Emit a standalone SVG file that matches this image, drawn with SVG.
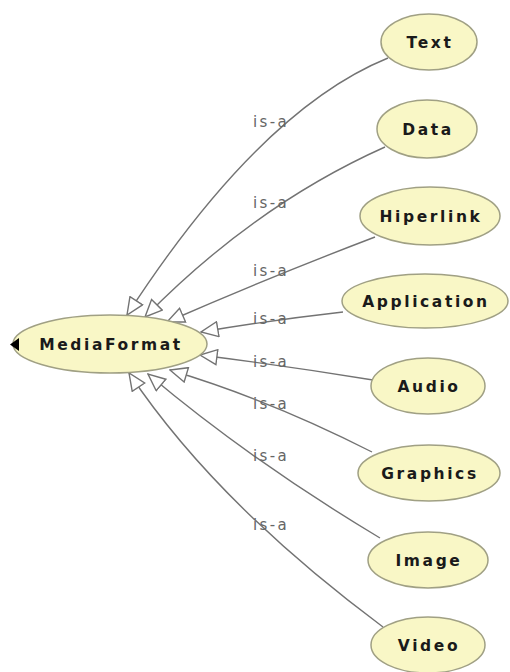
<svg xmlns="http://www.w3.org/2000/svg" width="510" height="672" viewBox="0 0 510 672">
  <style>
    .node ellipse { fill: #f9f7c6; stroke: #a0a084; stroke-width: 1.5; }
    .node text { font-family: "DejaVu Sans", Verdana, sans-serif; font-size: 15.5px; font-weight: bold; fill: #1a1a1a; text-anchor: middle; letter-spacing: 2.6px; }
    .edge { fill: none; stroke: #737373; stroke-width: 1.4; marker-start: url(#hollow); }
    .lbl { font-family: "DejaVu Sans", Verdana, sans-serif; font-size: 15px; fill: #666666; letter-spacing: 2.4px; }
  </style>
  <defs>
    <!-- open triangle head for the is-a relation, tip at the parent -->
    <marker id="hollow" viewBox="0 0 19 17" markerWidth="19" markerHeight="17" refX="18" refY="8.5" orient="auto-start-reverse" markerUnits="userSpaceOnUse">
      <path d="M1,1 L18,8.5 L1,16 Z" fill="#ffffff" stroke="#737373" stroke-width="1.4"/>
    </marker>
  </defs>
  <rect width="510" height="672" fill="#ffffff"/>

  <g id="connectors">
    <path class="edge" d="M127,315 Q260,110 388,58"/>
    <path class="edge" d="M145,317 Q255,205 385,147"/>
    <path class="edge" d="M167,322 Q270,277 375,237"/>
    <path class="edge" d="M201,332 Q272,320 343,312"/>
    <path class="edge" d="M200,355 Q287,366 373,380"/>
    <path class="edge" d="M170,370 Q270,400 372,452"/>
    <path class="edge" d="M148,374 Q250,460 380,538"/>
    <path class="edge" d="M129,373 Q216,503 383,627"/>
    <text class="lbl" x="253" y="127">is-a</text>
    <text class="lbl" x="253" y="208">is-a</text>
    <text class="lbl" x="253" y="276">is-a</text>
    <text class="lbl" x="253" y="324">is-a</text>
    <text class="lbl" x="253" y="367">is-a</text>
    <text class="lbl" x="253" y="409">is-a</text>
    <text class="lbl" x="253" y="461">is-a</text>
    <text class="lbl" x="253" y="530">is-a</text>
  </g>

  <g id="MediaFormat" class="node">
    <ellipse cx="110" cy="344" rx="97" ry="29"/>
    <polygon points="10,344.5 19,338 19,351" fill="#000000"/>
    <text x="111" y="350">MediaFormat</text>
  </g>
  <g id="Text" class="node">
    <ellipse cx="429" cy="42" rx="48" ry="28"/>
    <text x="430" y="48">Text</text>
  </g>
  <g id="Data" class="node">
    <ellipse cx="427" cy="129" rx="50" ry="29"/>
    <text x="428" y="135">Data</text>
  </g>
  <g id="Hiperlink" class="node">
    <ellipse cx="430" cy="216" rx="70" ry="29"/>
    <text x="431" y="222">Hiperlink</text>
  </g>
  <g id="Application" class="node">
    <ellipse cx="425" cy="301" rx="83" ry="27"/>
    <text x="426" y="307">Application</text>
  </g>
  <g id="Audio" class="node">
    <ellipse cx="428" cy="386" rx="57" ry="28"/>
    <text x="429" y="392">Audio</text>
  </g>
  <g id="Graphics" class="node">
    <ellipse cx="429" cy="473" rx="71" ry="28"/>
    <text x="430" y="479">Graphics</text>
  </g>
  <g id="Image" class="node">
    <ellipse cx="428" cy="560" rx="60" ry="28"/>
    <text x="429" y="566">Image</text>
  </g>
  <g id="Video" class="node">
    <ellipse cx="428" cy="645" rx="57" ry="28"/>
    <text x="429" y="651">Video</text>
  </g>
</svg>
